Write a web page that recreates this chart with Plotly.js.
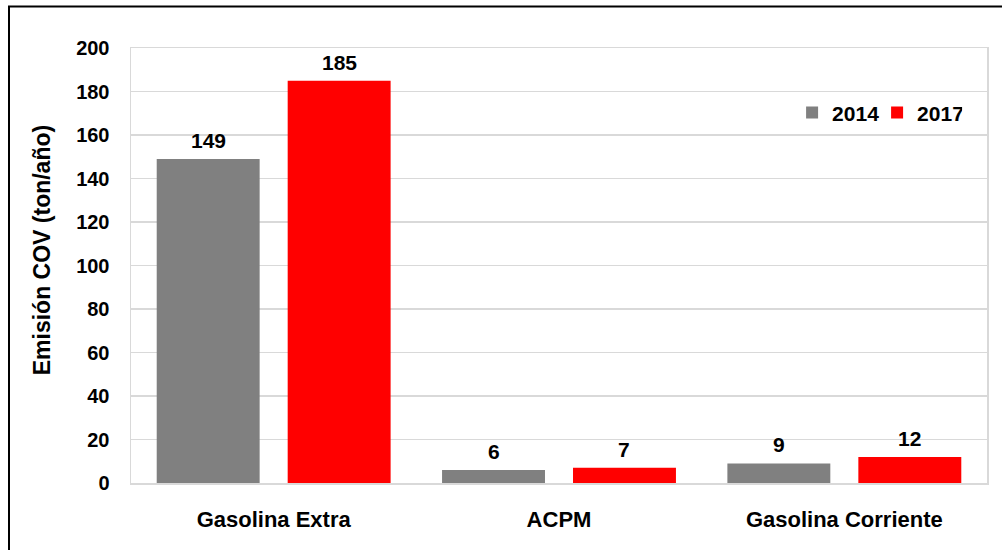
<!DOCTYPE html>
<html>
<head>
<meta charset="utf-8">
<script src="https://cdn.plot.ly/plotly-3.0.1.min.js"></script>
<style>
  html, body { margin: 0; padding: 0; background: #ffffff; }
  #chart { width: 1002px; height: 550px; }
</style>
</head>
<body>
<div id="chart"></div>
<script>
// Emisiones de COV por combustible
const categories = ['Gasolina Extra', 'ACPM', 'Gasolina Corriente'];
const years = ['2014', '2017'];
const values2014 = [149, 6, 9];
const values2017 = [185, 7, 12];
const yTicks = [0, 20, 40, 60, 80, 100, 120, 140, 160, 180, 200];
const yTitle = 'Emisión COV (ton/año)';

const FONT = '"Liberation Sans", Arial, sans-serif';
const labelFont = { family: FONT, size: 21, color: '#000000', weight: 'bold' };

const BAR_GAP = 0.082, GROUP_GAP = 0.214;

const traces = [
  { type: 'bar', name: years[0], x: categories, y: values2014, marker: { color: '#808080' } },
  { type: 'bar', name: years[1], x: categories, y: values2017, marker: { color: '#ff0000' } }
];

// Value labels above each bar, offset to the centre of its slot in the group
const slot = (1 - BAR_GAP) / 2;
const valueLabels = [];
[values2014, values2017].forEach((vals, s) => {
  vals.forEach((v, i) => {
    valueLabels.push({
      xref: 'x', yref: 'y', x: i + (s - 0.5) * slot, y: v,
      text: String(v), showarrow: false, xanchor: 'center', yanchor: 'bottom',
      yshift: 5, font: labelFont
    });
  });
});

const layout = {
  width: 1002, height: 550,
  margin: { l: 131, r: 15, t: 48, b: 66.5 },
  paper_bgcolor: '#ffffff', plot_bgcolor: '#ffffff',
  font: { family: FONT, color: '#000000', weight: 'bold' },
  barmode: 'group', bargap: BAR_GAP, bargroupgap: GROUP_GAP,
  showlegend: true,
  legend: {
    orientation: 'h', x: 0.7723, xanchor: 'left', y: 0.851, yanchor: 'middle',
    font: { family: FONT, size: 21, weight: 'bold' },
    entrywidth: 40, bgcolor: 'rgba(0,0,0,0)'
  },
  xaxis: {
    type: 'category',
    showline: true, linecolor: '#d9d9d9', linewidth: 1.5, mirror: true,
    ticks: '', ticklabelstandoff: 16,
    tickfont: { family: FONT, size: 22, weight: 'bold' }
  },
  yaxis: {
    range: [0, 200], tickvals: yTicks, ticktext: yTicks.map(String),
    showgrid: true, gridcolor: '#d9d9d9', gridwidth: 1.5,
    showline: true, linecolor: '#d9d9d9', linewidth: 1.5, mirror: true,
    zeroline: false, ticks: '', ticklabelstandoff: 16,
    tickfont: { family: FONT, size: 20, weight: 'bold' }
  },
  annotations: valueLabels.concat([
    {
      xref: 'paper', yref: 'paper', x: (42 - 131) / 856, y: (483.5 - 250.5) / 435.5,
      text: yTitle, textangle: -90, showarrow: false,
      xanchor: 'center', yanchor: 'middle',
      font: { family: FONT, size: 23, color: '#000000', weight: 'bold' }
    }
  ]),
  shapes: [
    {
      type: 'rect', xref: 'paper', yref: 'paper',
      x0: (9 - 131) / 856, x1: (1012 - 131) / 856,
      y0: (483.5 - 560) / 435.5, y1: (483.5 - 6.5) / 435.5,
      line: { color: '#000000', width: 2 }, fillcolor: 'rgba(0,0,0,0)', layer: 'above'
    }
  ]
};

Plotly.newPlot('chart', traces, layout, { staticPlot: true, displayModeBar: false });
</script>
</body>
</html>
